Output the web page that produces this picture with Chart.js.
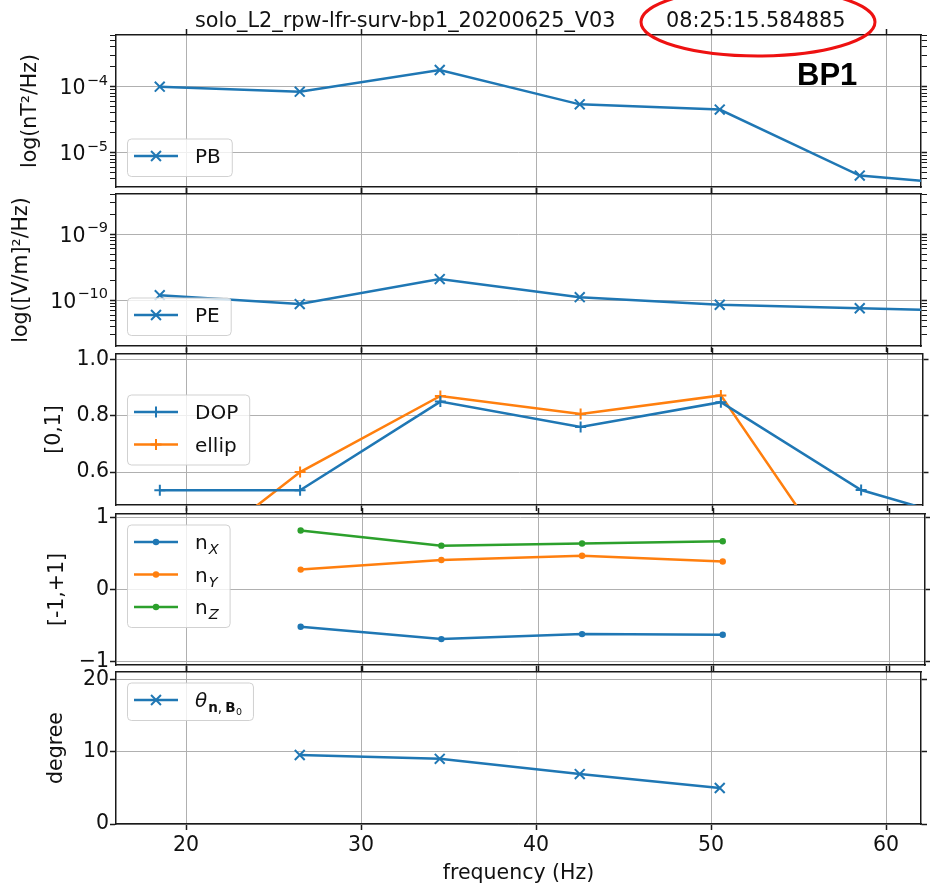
<!DOCTYPE html>
<html>
<head>
<meta charset="utf-8">
<script src="https://cdn.jsdelivr.net/npm/chart.js@4.4.1/dist/chart.umd.min.js"></script>
<style>
  html, body { margin: 0; padding: 0; background: #fff; }
  #wrap { position: relative; width: 930px; height: 888px; overflow: hidden; background: #fff; }
  #wrap canvas { position: absolute; left: 0; }
  #overlay { position: absolute; left: 0; top: 0; pointer-events: none; }
</style>
</head>
<body>
<div id="wrap">
  <svg id="overlay" width="930" height="888" xmlns="http://www.w3.org/2000/svg">
    <text x="195" y="26.5" font-family="DejaVu Sans" font-size="20.8" fill="#111">solo_L2_rpw-lfr-surv-bp1_20200625_V03</text>
    <text x="666" y="26.5" font-family="DejaVu Sans" font-size="20.8" fill="#111">08:25:15.584885</text>
    <ellipse cx="758" cy="22" rx="117" ry="34" fill="none" stroke="#ee1111" stroke-width="3"/>
    <text x="797" y="84.5" font-family="Liberation Sans" font-weight="bold" font-size="31" fill="#000">BP1</text>
  </svg>
</div>
<script>
// ---- data: BP1 spectral parameters per frequency bin ----
const FREQ  = [18.5, 26.5, 34.5, 42.5, 50.5, 58.5, 66.5];
const PB    = [1.0e-4, 8.4e-5, 1.79e-4, 5.4e-5, 4.5e-5, 4.5e-6, 3.0e-6];
const PE    = [1.20e-10, 8.8e-11, 2.1e-10, 1.12e-10, 8.6e-11, 7.6e-11, 6.8e-11];
const DOP   = [0.535, 0.535, 0.850, 0.760, 0.848, 0.536, 0.392];
const ELLIP = [0.213, 0.600, 0.870, 0.806, 0.872, 0.145, null];
const NX    = [null, -0.518, -0.69, -0.62, -0.63, null, null];
const NY    = [null, 0.277, 0.41, 0.47, 0.39, null, null];
const NZ    = [null, 0.82, 0.61, 0.64, 0.67, null, null];
const THETA = [null, 9.53, 9.0, 6.9, 4.97, null, null];
const X_TICKS = [20, 30, 40, 50, 60];
const X_MIN = 16, X_MAX = 62;

// ---- layout ----
const W = 930, H = 888, AX_L = 116, AX_R = 925;
const PANELS_Y = [[35, 187], [194, 346], [354, 505], [514, 665], [672, 824]];
const TICK = 6, TICK_PAD = 1;
const FRAME = '#1a1a1a', GRID = '#b0b0b0', TXT = '#111';
const TICK_FONT = { family: 'DejaVu Sans', size: 20.5 };
const LABEL_FONT = { family: 'DejaVu Sans', size: 20.5 };
const BLUE = '#1f77b4', ORANGE = '#ff7f0e', GREEN = '#2ca02c';
const F = 'DejaVu Sans';

function logTicks(min, max) {
  const out = [];
  for (let d = Math.floor(Math.log10(min)); d <= Math.ceil(Math.log10(max)); d++) {
    for (let k = 1; k <= 9; k++) {
      const v = k * Math.pow(10, d);
      if (v >= min && v <= max) out.push({ value: v, minor: k !== 1 });
    }
  }
  return out;
}

function zeroPad(s) { s.paddingTop = s.paddingBottom = s.paddingLeft = s.paddingRight = 0; }

function xScale(pos, labels, boxH) {
  const bottom = pos === 'bottom';
  return {
    type: 'linear', position: pos, min: X_MIN, max: X_MAX, bounds: 'data',
    afterBuildTicks: s => { s.ticks = X_TICKS.map(v => ({ value: v })); },
    afterFit: s => { s.height = boxH; zeroPad(s); },
    grid: { drawOnChartArea: bottom, color: GRID, lineWidth: 1, tickLength: TICK, tickColor: FRAME, tickWidth: 1.5 },
    border: { display: true, color: FRAME, width: 1.5 },
    ticks: { display: labels, autoSkip: false, maxRotation: 0, padding: 3, color: TXT, font: TICK_FONT,
             callback: v => String(v) },
    title: labels ? { display: true, text: 'frequency (Hz)', color: TXT, font: LABEL_FONT, padding: { top: 0, bottom: 2 } }
                  : { display: false },
    z: bottom ? 0 : 1
  };
}

function yScale(spec, side) {
  const left = side === 'left';
  return {
    type: spec.type, position: side, min: spec.min, max: spec.max, bounds: 'data',
    afterBuildTicks: s => { s.ticks = spec.ticks.map(t => ({ value: t.value, minor: !!t.minor })); },
    afterFit: s => { s.width = left ? AX_L : W - AX_R; zeroPad(s); },
    grid: {
      drawOnChartArea: left,
      color: c => (c.tick && c.tick.minor) ? 'rgba(0,0,0,0)' : GRID,
      lineWidth: 1, tickLength: TICK, tickColor: FRAME,
      tickWidth: c => (c.tick && c.tick.minor) ? 1 : 1.5
    },
    border: { display: true, color: FRAME, width: 1.5 },
    ticks: { display: left, autoSkip: false, padding: TICK_PAD, color: TXT, font: TICK_FONT,
             callback: (v, i, ts) => (ts[i].minor || spec.powerLabels) ? '' : spec.fmt(v) },
    title: left ? { display: true, text: spec.title, color: TXT, font: LABEL_FONT, padding: { top: spec.titlePad, bottom: 0 } }
                : { display: false },
    z: left ? 0 : 1
  };
}

function series(label, values, color, style) {
  const ds = {
    label, data: FREQ.map((f, i) => ({ x: f, y: values[i] })),
    borderColor: color, backgroundColor: color, borderWidth: 2.5,
    pointBorderColor: color, pointBackgroundColor: color, pointStyle: style,
    fill: false, tension: 0, spanGaps: false, clip: 0
  };
  if (style === 'crossRot') { ds.pointRadius = 7; ds.pointBorderWidth = 2; }
  else if (style === 'cross') { ds.pointRadius = 5.5; ds.pointBorderWidth = 2; }
  else { ds.pointRadius = 3.2; ds.pointBorderWidth = 0; }
  return ds;
}

// ---- mixed-font text runs (superscripts / subscripts) ----
function runs(ctx, parts, x, y, draw) {
  let cx = x;
  for (const p of parts) {
    ctx.font = p.font || ('20px ' + F);
    cx += p.dx || 0;
    if (draw) ctx.fillText(p.t, cx, y + (p.dy || 0));
    cx += ctx.measureText(p.t).width;
  }
  return cx - x;
}

// ---- decade labels 10^n on logarithmic axes ----
const powerLabels = {
  id: 'powerLabels',
  afterDraw(chart) {
    const s = chart.scales.y;
    if (!s || s.type !== 'logarithmic') return;
    const ctx = chart.ctx;
    ctx.save();
    ctx.fillStyle = TXT; ctx.textAlign = 'left'; ctx.textBaseline = 'alphabetic';
    s.ticks.forEach(t => {
      if (t.minor) return;
      const e = Math.round(Math.log10(t.value));
      const parts = [
        { t: '10', font: '20.5px ' + F },
        { t: (e < 0 ? '\u2212' : '') + Math.abs(e), font: '14.5px ' + F, dy: -9.5, dx: 1 }
      ];
      const w = runs(ctx, parts, 0, 0, false);
      const y = s.getPixelForValue(t.value);
      runs(ctx, parts, s.right - TICK - TICK_PAD - 1 - w, y + 7.5, true);
    });
    ctx.restore();
  }
};

// ---- legend box drawn inside the plot area ----
function drawMarker(ctx, ds, x, y) {
  const r = ds.pointRadius;
  ctx.strokeStyle = ds.borderColor; ctx.fillStyle = ds.borderColor; ctx.lineWidth = ds.pointBorderWidth || 1;
  ctx.beginPath();
  if (ds.pointStyle === 'crossRot') {
    const d = r * Math.SQRT1_2;
    ctx.moveTo(x - d, y - d); ctx.lineTo(x + d, y + d);
    ctx.moveTo(x + d, y - d); ctx.lineTo(x - d, y + d); ctx.stroke();
  } else if (ds.pointStyle === 'cross') {
    ctx.moveTo(x - r, y); ctx.lineTo(x + r, y);
    ctx.moveTo(x, y - r); ctx.lineTo(x, y + r); ctx.stroke();
  } else {
    ctx.arc(x, y, r, 0, Math.PI * 2); ctx.fill();
  }
}
const panelLegend = {
  id: 'panelLegend',
  afterDraw(chart, args, opts) {
    if (!opts || !opts.items) return;
    const ctx = chart.ctx, ca = chart.chartArea;
    const rowH = 32.5;
    ctx.save();
    const tw = Math.max(...opts.items.map(it => runs(ctx, it.parts, 0, 0, false)));
    const w = 7 + 44 + 17 + tw + 11;
    const h = opts.items.length * rowH + 5;
    const x0 = ca.left + 11;
    let y0;
    if (opts.loc === 'upper left') y0 = ca.top + 10.5;
    else if (opts.loc === 'lower left') y0 = ca.bottom - 11 - h;
    else y0 = (ca.top + ca.bottom) / 2 - h / 2;
    ctx.beginPath();
    ctx.roundRect(x0 + 0.5, y0 + 0.5, w, h, 4);
    ctx.fillStyle = 'rgba(255,255,255,0.8)'; ctx.fill();
    ctx.strokeStyle = 'rgba(204,204,204,0.9)'; ctx.lineWidth = 1; ctx.stroke();
    opts.items.forEach((it, i) => {
      const ds = chart.data.datasets[it.ds];
      const cy = y0 + 17.5 + i * rowH;
      ctx.strokeStyle = ds.borderColor; ctx.lineWidth = ds.borderWidth;
      ctx.beginPath(); ctx.moveTo(x0 + 7, cy); ctx.lineTo(x0 + 51, cy); ctx.stroke();
      drawMarker(ctx, ds, x0 + 29, cy);
      ctx.fillStyle = TXT; ctx.textBaseline = 'alphabetic'; ctx.textAlign = 'left';
      runs(ctx, it.parts, x0 + 68, cy + 7, true);
    });
    ctx.restore();
  }
};

const txt = t => [{ t, font: '20px ' + F }];
const sub = (b, s) => [{ t: b, font: '20px ' + F }, { t: s, font: 'italic 14.5px ' + F, dy: 5, dx: 1 }];

const PANELS = [
  {
    y: { type: 'logarithmic', min: Math.pow(10, -5.52), max: Math.pow(10, -3.217), powerLabels: true,
         title: 'log(nT\u00B2/Hz)', titlePad: 18 },
    datasets: [series('PB', PB, BLUE, 'crossRot')],
    legend: { loc: 'lower left', items: [{ ds: 0, parts: txt('PB') }] }
  },
  {
    y: { type: 'logarithmic', min: Math.pow(10, -10.69), max: Math.pow(10, -8.39), powerLabels: true,
         title: 'log([V/m]\u00B2/Hz)', titlePad: 9.7 },
    datasets: [series('PE', PE, BLUE, 'crossRot')],
    legend: { loc: 'lower left', items: [{ ds: 0, parts: txt('PE') }] }
  },
  {
    y: { type: 'linear', min: 0.483, max: 1.019, fmt: v => v.toFixed(1),
         ticks: [0.6, 0.8, 1.0].map(v => ({ value: v })), title: '[0,1]', titlePad: 42 },
    datasets: [series('DOP', DOP, BLUE, 'cross'), series('ellip', ELLIP, ORANGE, 'cross')],
    legend: { loc: 'center left', items: [{ ds: 0, parts: txt('DOP') }, { ds: 1, parts: txt('ellip') }] }
  },
  {
    y: { type: 'linear', min: -1.05, max: 1.05, fmt: v => v < 0 ? '\u2212' + Math.abs(v) : String(v),
         ticks: [-1, 0, 1].map(v => ({ value: v })), title: '[-1,+1]', titlePad: 45 },
    datasets: [series('nX', NX, BLUE, 'circle'), series('nY', NY, ORANGE, 'circle'), series('nZ', NZ, GREEN, 'circle')],
    legend: { loc: 'upper left', items: [{ ds: 0, parts: sub('n', 'X') }, { ds: 1, parts: sub('n', 'Y') }, { ds: 2, parts: sub('n', 'Z') }] }
  },
  {
    y: { type: 'linear', min: 0, max: 21, fmt: v => String(v),
         ticks: [0, 10, 20].map(v => ({ value: v })), title: 'degree', titlePad: 44.7 },
    datasets: [series('theta', THETA, BLUE, 'crossRot')],
    legend: { loc: 'upper left', items: [{ ds: 0, parts: [
      { t: '\u03B8', font: 'italic 20px ' + F },
      { t: 'n', font: 'bold 13.5px ' + F, dy: 5, dx: 1 },
      { t: ',', font: '13.5px ' + F, dy: 5 },
      { t: 'B', font: 'bold 13.5px ' + F, dy: 5, dx: 3 },
      { t: '0', font: '9.5px ' + F, dy: 8, dx: 0.5 }
    ] }] }
  }
];

Chart.defaults.font.family = F;
const wrap = document.getElementById('wrap');
const overlay = document.getElementById('overlay');

PANELS.forEach((p, idx) => {
  const [top, bottom] = PANELS_Y[idx];
  const last = idx === PANELS.length - 1;
  const padTop = idx === 0 ? top : 14;
  const padBot = last ? H - bottom : 14;
  const cv = document.createElement('canvas');
  cv.width = W; cv.height = padTop + (bottom - top) + padBot;
  cv.style.width = W + 'px'; cv.style.height = cv.height + 'px';
  cv.style.top = (top - padTop) + 'px';
  wrap.insertBefore(cv, overlay);
  const yspec = Object.assign({}, p.y);
  if (!yspec.ticks) yspec.ticks = logTicks(yspec.min, yspec.max);
  new Chart(cv, {
    type: 'line',
    data: { datasets: p.datasets },
    options: {
      responsive: false, animation: false, devicePixelRatio: 1, events: [],
      layout: { padding: 0 },
      scales: {
        x: xScale('bottom', last, padBot),
        x2: xScale('top', false, padTop),
        y: yScale(yspec, 'left'),
        y2: yScale(yspec, 'right')
      },
      plugins: { legend: { display: false }, tooltip: { enabled: false }, panelLegend: p.legend }
    },
    plugins: [powerLabels, panelLegend]
  });
});
</script>
</body>
</html>
